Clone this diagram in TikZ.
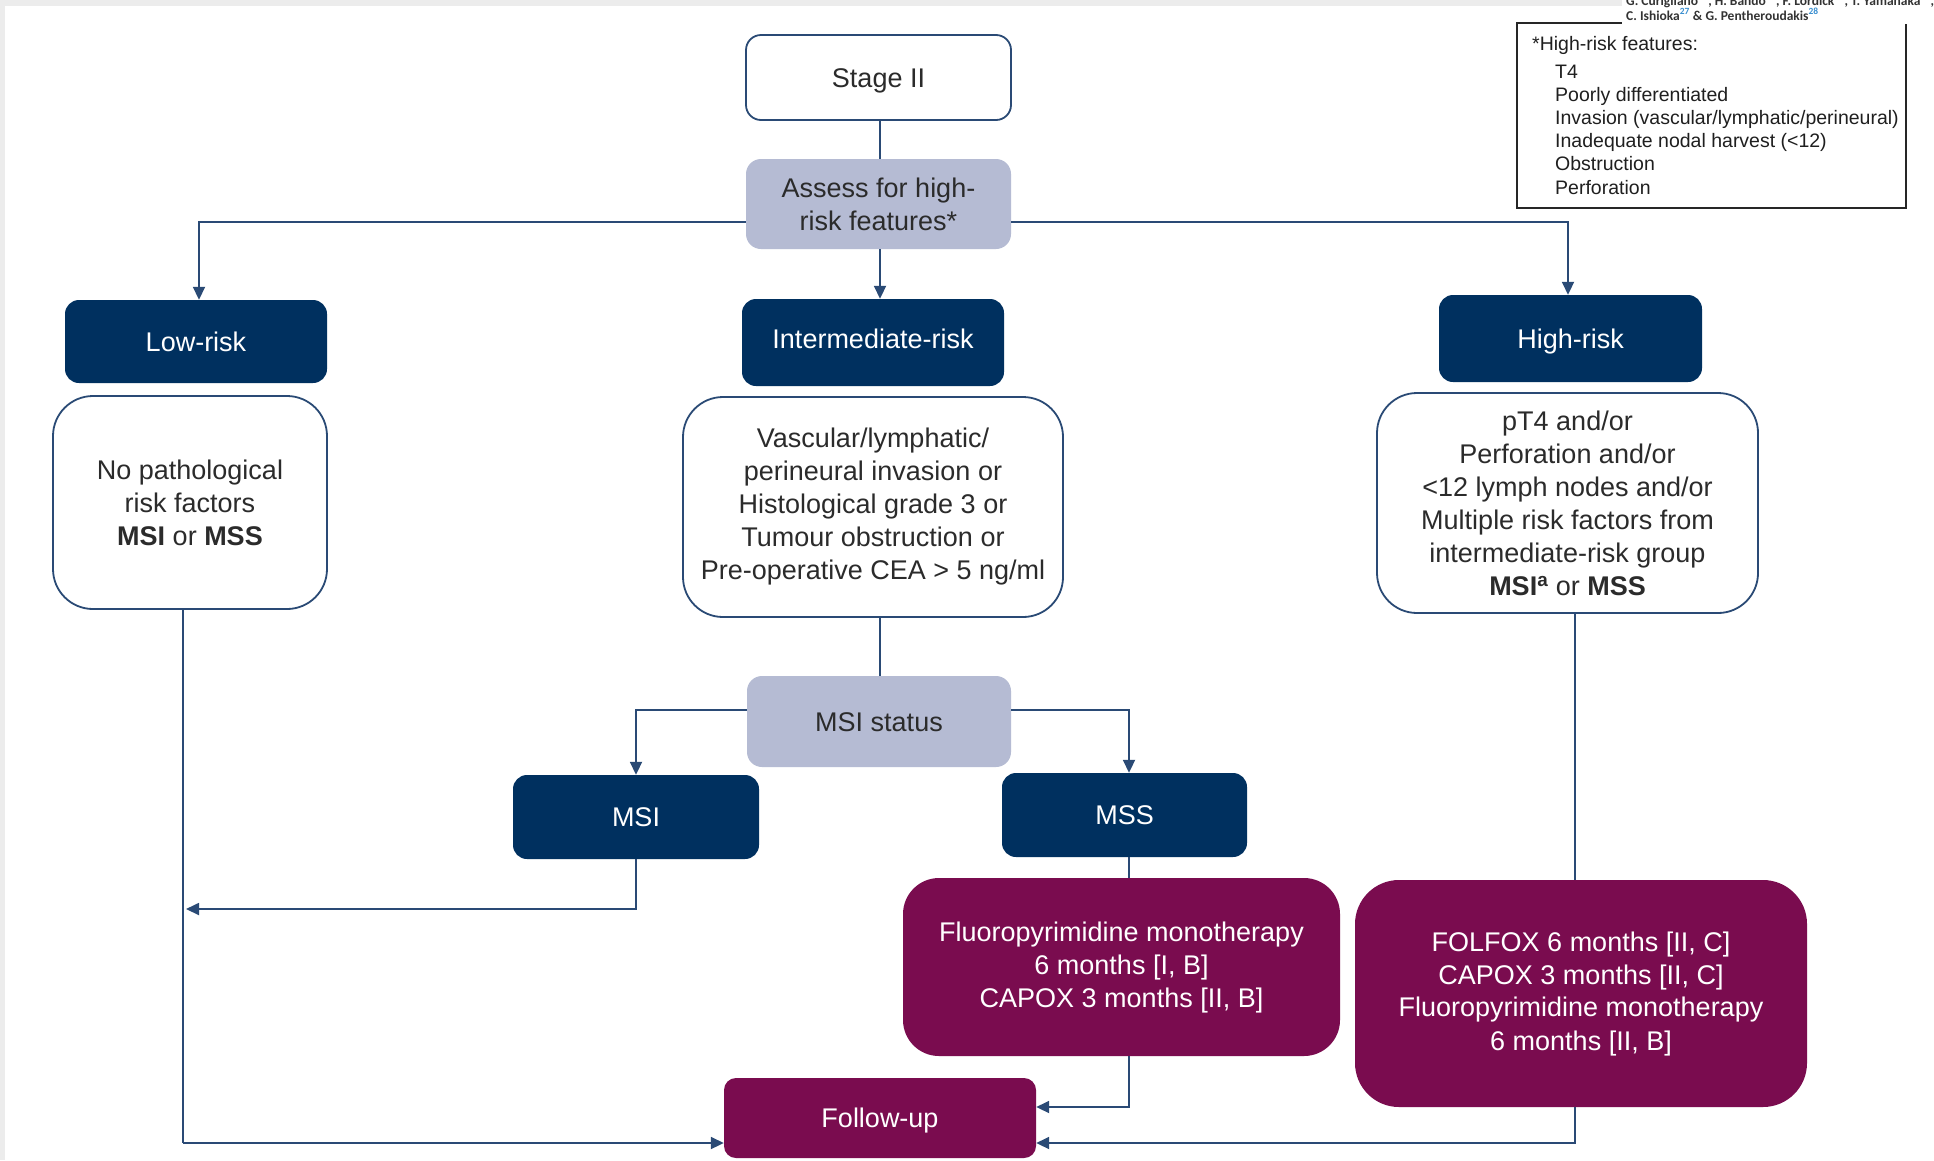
\documentclass[tikz,border=0pt]{standalone}
\usepackage{fontspec}
\setmainfont{Liberation Sans}
\newfontfamily\authfont{Carlito}
\usetikzlibrary{arrows.meta,calc}
\definecolor{navy}{HTML}{00305F}
\definecolor{lav}{HTML}{B5BBD3}
\definecolor{plum}{HTML}{7A0C4F}
\definecolor{linecol}{HTML}{2A4A75}
\definecolor{txt}{HTML}{2B2B2B}
\definecolor{edgegrey}{HTML}{ECECEC}
\definecolor{supblue}{HTML}{3A8FD0}
\newcommand{\bodysize}{\fontsize{27}{33}\selectfont}
\newcommand{\legsize}{\fontsize{19.5}{23.5}\selectfont}
\newcommand{\asup}[1]{\textsuperscript{\color{supblue}#1}}
\begin{document}
\begin{tikzpicture}[x=1pt,y=-1pt,
  box/.style={rectangle, rounded corners=#1, inner sep=0pt, align=center, font=\bodysize},
  oneline/.style={text height=19.5pt, text depth=0pt},
  whitebox/.style={box=#1, draw=linecol, line width=1.8pt, fill=white, text=txt},
  navybox/.style={box=14pt, fill=navy, text=white, oneline},
  lavbox/.style={box=15pt, fill=lav, text=txt},
  plumbox/.style={box=#1, fill=plum, text=white},
  link/.style={draw=linecol, line width=1.8pt},
  arr/.style={link, -{Triangle[length=13pt,width=12pt]}},
  legtext/.style={anchor=base west, inner sep=0pt, font=\legsize, text=black!88},
  authtext/.style={anchor=base west, inner sep=0pt, font=\authfont\bfseries\fontsize{13.5}{15}\selectfont, text=black!80},
]
\useasboundingbox (0,0) rectangle (1934,1160);
\fill[white] (0,0) rectangle (1934,1160);
\fill[edgegrey] (0,0) rectangle (1622,6);
\fill[edgegrey] (0,0) rectangle (5,1160);

% nodes
\node[whitebox=15pt, oneline, minimum width=265pt, minimum height=85pt] (stage) at (878.5,77.5) {Stage II};
\node[lavbox, minimum width=265pt, minimum height=90pt] (assess) at (878.5,204) {Assess for high-\\risk features*};
\node[navybox, minimum width=262pt, minimum height=83pt] (low) at (196,341.5) {Low-risk};
\node[navybox, minimum width=262pt, minimum height=87pt] (inter) at (873,342.5) {\raisebox{4pt}{Intermediate-risk}};
\node[navybox, minimum width=263pt, minimum height=87pt] (high) at (1570.5,338.5) {High-risk};
\node[whitebox=40pt, minimum width=274pt, minimum height=213pt] (lowtxt) at (190,502.5)
  {No pathological\\risk factors\\\textbf{MSI} or \textbf{MSS}};
\node[whitebox=40pt, minimum width=380pt, minimum height=220pt] (inttxt) at (873,507)
  {Vascular/lymphatic/\\perineural invasion or\\Histological grade 3 or\\Tumour obstruction or\\Pre-operative CEA > 5 ng/ml};
\node[whitebox=40pt, minimum width=381pt, minimum height=220pt] (hightxt) at (1567.5,503)
  {pT4 and/or\\Perforation and/or\\<12 lymph nodes and/or\\Multiple risk factors from\\intermediate-risk group\\\textbf{MSI\textsuperscript{a}} or \textbf{MSS}};
\node[lavbox, oneline, minimum width=264pt, minimum height=91pt] (msistat) at (879,721.5) {MSI status};
\node[navybox, minimum width=246pt, minimum height=84pt] (msi) at (636,817) {MSI};
\node[navybox, minimum width=245pt, minimum height=84pt] (mss) at (1124.5,815) {MSS};
\node[plumbox=36pt, minimum width=437pt, minimum height=178pt] (fluoro) at (1121.5,967)
  {Fluoropyrimidine monotherapy\\6 months [I, B]\\CAPOX 3 months [II, B]};
\node[plumbox=44pt, minimum width=452pt, minimum height=227pt] (folfox) at (1581,993.5)
  {FOLFOX 6 months [II, C]\\CAPOX 3 months [II, C]\\Fluoropyrimidine monotherapy\\6 months [II, B]};
\node[plumbox=12pt, oneline, minimum width=312pt, minimum height=80pt] (follow) at (880,1118) {Follow-up};

% legend
\node[draw=black!85, line width=1.2pt, rectangle, inner sep=0pt, minimum width=389pt, minimum height=185pt] (legend) at (1711.5,115.5) {};
\node[legtext] (lg0) at (1532,50) {*High-risk features:};
\node[legtext] (lg1) at (1555,78) {T4};
\node[legtext] (lg2) at (1555,101.2) {Poorly differentiated};
\node[legtext] (lg3) at (1555,124.4) {Invasion (vascular/lymphatic/perineural)};
\node[legtext] (lg4) at (1555,147.6) {Inadequate nodal harvest (<12)};
\node[legtext] (lg5) at (1555,170.8) {Obstruction};
\node[legtext] (lg6) at (1555,194) {Perforation};

% header strip (cut-off author lines, as in the source page)
\fill[white] (1622,0) rectangle (1934,24);
\begin{scope}
\clip (1622,0) rectangle (1934,24);
\node[authtext] (auth1) at (1626,5)
  {G. Curigliano\asup{24}, H. Bando\asup{25}, F. Lordick\asup{26}, T. Yamanaka\asup{17},};
\node[authtext] (auth2) at (1626,20)
  {C. Ishioka\asup{27} \& G. Pentheroudakis\asup{28}};
\end{scope}

% helper coordinates
\coordinate (jl) at (199,222);
\coordinate (jh) at (1568,222);
\coordinate (cx) at (880,0);
\coordinate (lvx) at (183,0);
\coordinate (lvx2) at (186,0);
\coordinate (ml) at (0,909);
\coordinate (ms) at (0,710);
\coordinate (mx) at (1129,0);
\coordinate (hx) at (1575,0);
\coordinate (fr) at (0,1107);
\coordinate (fb) at (0,1143);

% connectors
\draw[link] (stage.south -| cx) -- (assess.north -| cx);
\draw[arr] (assess.south -| cx) -- (inter.north -| cx);
\draw[arr] (assess.west |- jl) -- (jl) -- (jl |- low.north);
\draw[arr] (assess.east |- jh) -- (jh) -- (jh |- high.north);
\draw[link, line width=1.4pt] (lowtxt.south -| lvx) -- (lvx |- fb);
\draw[arr] (lvx |- fb) -- (follow.west |- fb);
\draw[link] (inttxt.south -| cx) -- (msistat.north -| cx);
\draw[arr] (msistat.west |- ms) -| (msi.north);
\draw[arr] (msistat.east |- ms) -- (mx |- ms) -- (mss.north -| mx);
\draw[arr] (msi.south) -- (msi.south |- ml) -- (lvx2 |- ml);
\draw[link] (mss.south -| mx) -- (fluoro.north -| mx);
\draw[arr] (fluoro.south -| mx) -- (mx |- fr) -- (follow.east |- fr);
\draw[link] (hightxt.south -| hx) -- (folfox.north -| hx);
\draw[arr] (folfox.south -| hx) -- (hx |- fb) -- (follow.east |- fb);
\end{tikzpicture}
\end{document}
